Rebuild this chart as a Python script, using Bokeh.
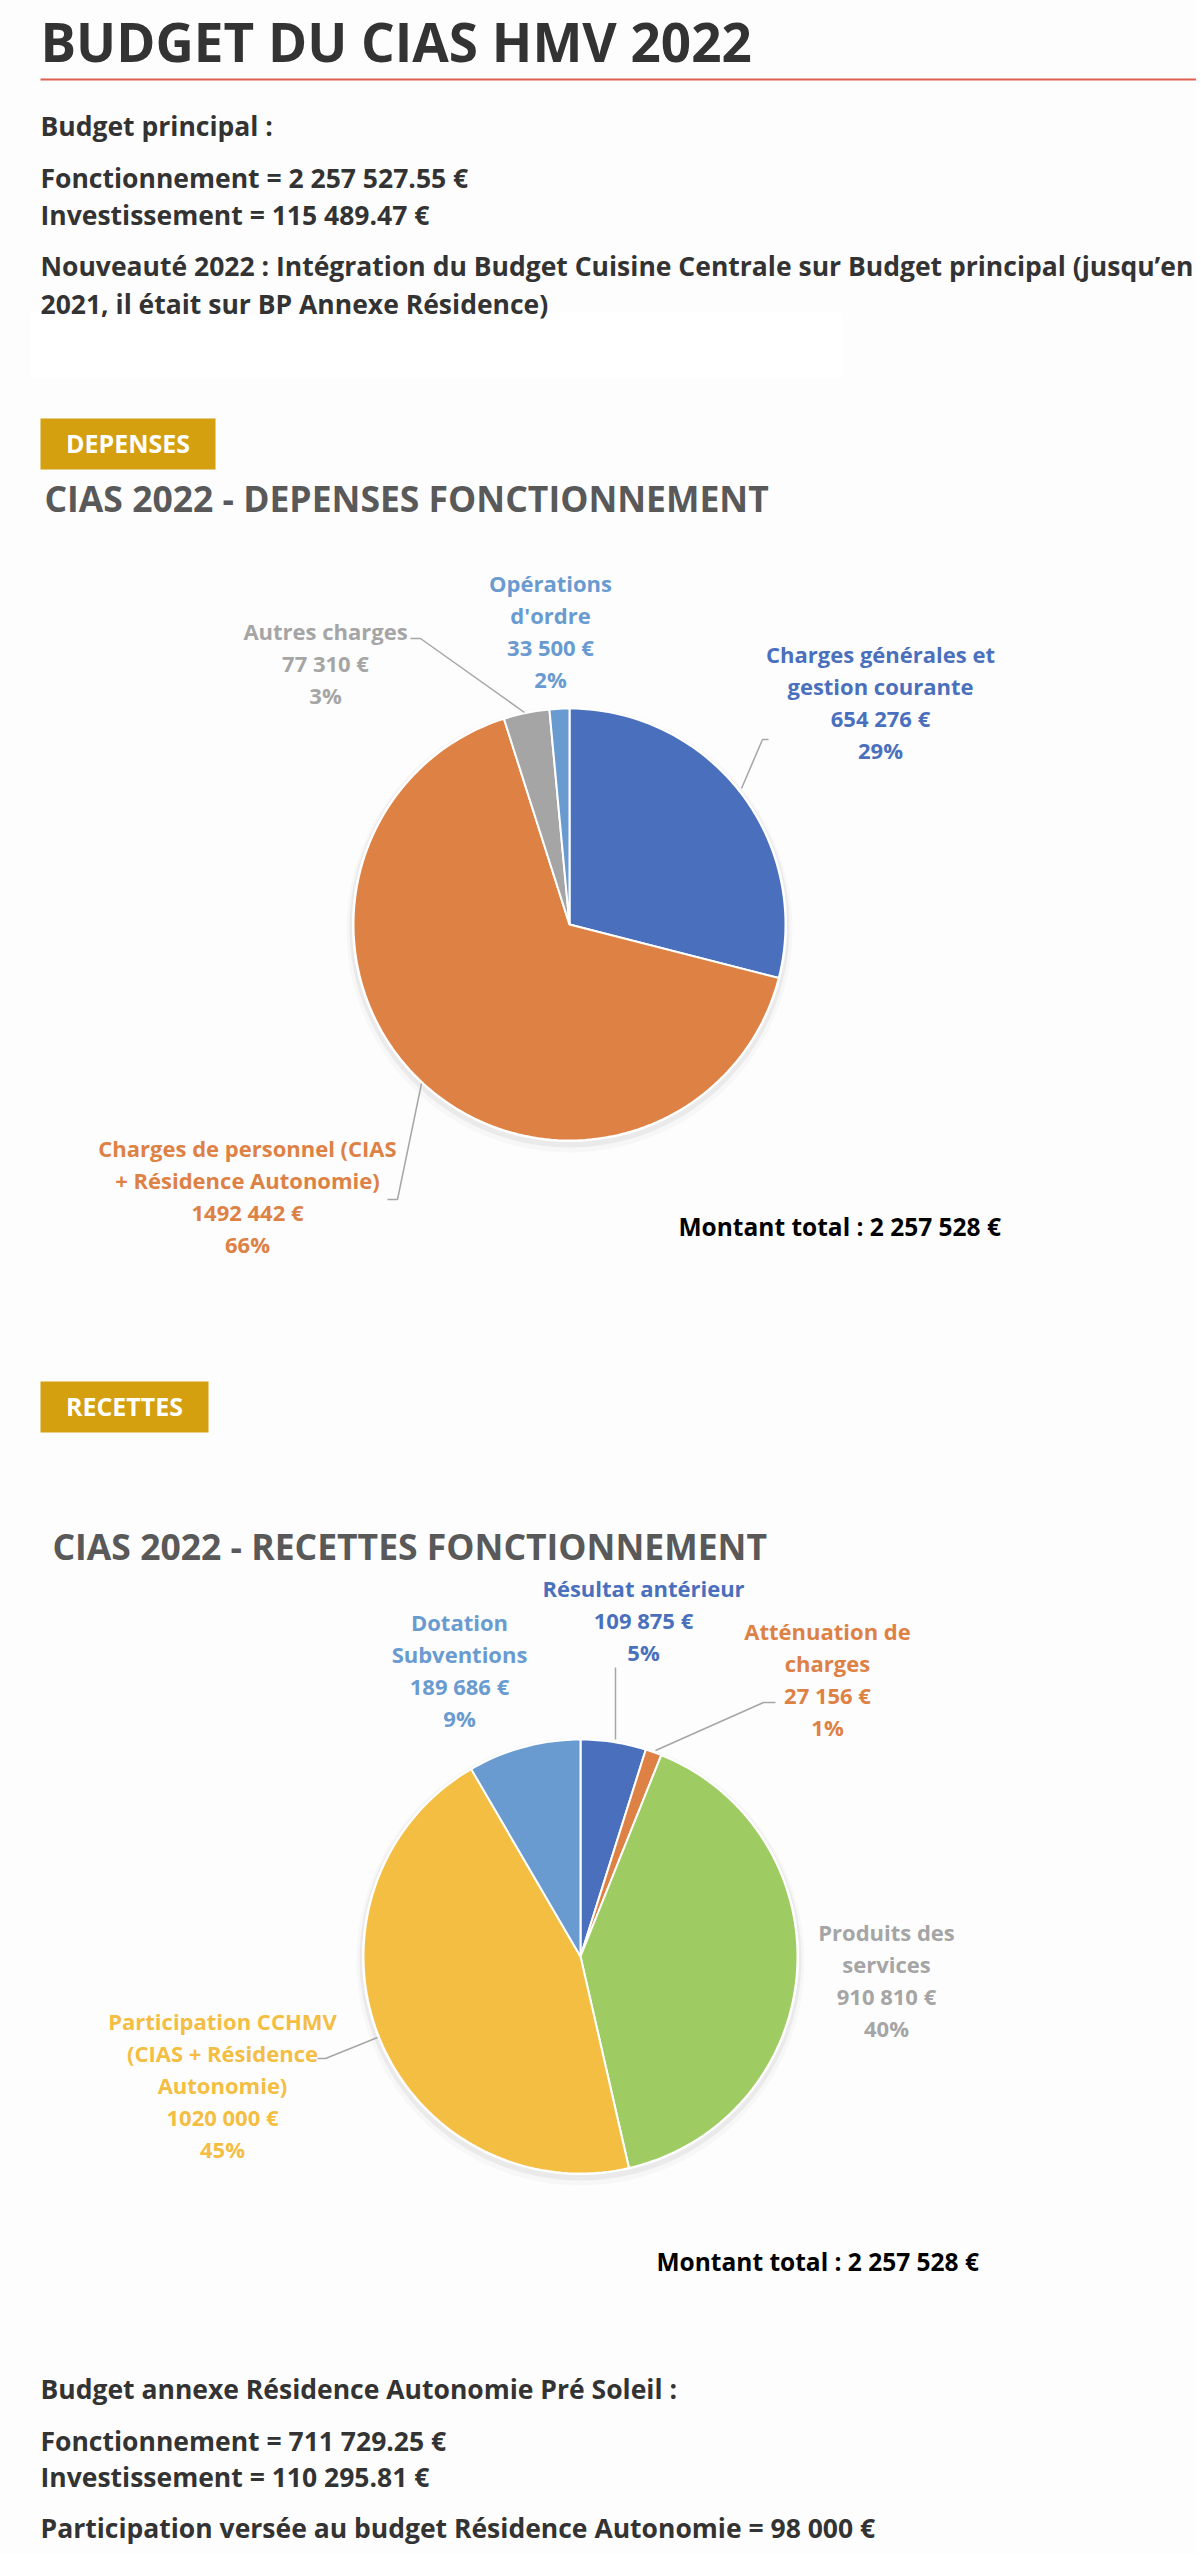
import numpy as np
from bokeh.plotting import figure
from bokeh.models import Range1d
from bokeh.core.properties import value
from bokeh.embed import file_html
from bokeh.resources import INLINE

# ---------------- data ----------------
dep_categories = ["Charges générales et gestion courante",
                  "Charges de personnel (CIAS + Résidence Autonomie)",
                  "Autres charges", "Opérations d'ordre"]
dep_label_names = [["Charges générales et", "gestion courante"],
                   ["Charges de personnel (CIAS", "+ Résidence Autonomie)"],
                   ["Autres charges"],
                   ["Opérations", "d'ordre"]]
dep_values = [654276, 1492442, 77310, 33500]
dep_percent = [29, 66, 3, 2]
dep_colors = ["#4A70BD", "#DE8145", "#A5A5A5", "#6A9BD0"]
dep_label_colors = ["#4A70BD", "#DE8145", "#A5A5A5", "#6A9BD0"]

rec_categories = ["Résultat antérieur", "Atténuation de charges",
                  "Produits des services",
                  "Participation CCHMV (CIAS + Résidence Autonomie)",
                  "Dotation Subventions"]
rec_label_names = [["Résultat antérieur"],
                   ["Atténuation de", "charges"],
                   ["Produits des", "services"],
                   ["Participation CCHMV", "(CIAS + Résidence", "Autonomie)"],
                   ["Dotation", "Subventions"]]
rec_values = [109875, 27156, 910810, 1020000, 189686]
rec_percent = [5, 1, 40, 45, 9]
rec_colors = ["#4A70BD", "#DE8145", "#9FCC62", "#F4BE43", "#6A9BD0"]
rec_label_colors = ["#4A70BD", "#DE8145", "#A5A5A5", "#F4BE43", "#6A9BD0"]

total_label = "Montant total : 2 257 528 €"

intro_lines = ["Budget principal :",
               "Fonctionnement = 2 257 527.55 €",
               "Investissement = 115 489.47 €",
               "Nouveauté 2022 : Intégration du Budget Cuisine Centrale sur Budget principal (jusqu’en",
               "2021, il était sur BP Annexe Résidence)"]
outro_lines = ["Budget annexe Résidence Autonomie Pré Soleil :",
               "Fonctionnement = 711 729.25 €",
               "Investissement = 110 295.81 €",
               "Participation versée au budget Résidence Autonomie = 98 000 €"]

# ---------------- layout ----------------
W, H = 1196, 2554
FONT = value("Open Sans")
p = figure(width=W, height=H, x_range=Range1d(0, W), y_range=Range1d(H, 0),
           output_backend="svg", toolbar_location=None, min_border=0)
p.axis.visible = False
p.grid.visible = False
p.outline_line_color = None
p.background_fill_color = "#FDFDFD"
p.border_fill_color = "#FDFDFD"


def txt(x, y, s, size, color, align="left", style="bold"):
    # y is the wanted baseline; compensate the renderer's baseline offset
    yy = y - (0.4 * size + 1)
    p.text(x=[x], y=[yy], text=[s], text_font=FONT, text_font_style=style,
           text_font_size=f"{size}px", text_color=color, text_align=align,
           text_baseline="alphabetic")


def fmt(v):
    s = str(v)
    return s[:-3] + " " + s[-3:] + " €"


def pie(values, colors, cx, cy, r):
    p.circle(x=[cx], y=[cy + 5], radius=r + 7, fill_color="black", fill_alpha=0.025, line_color=None)
    p.circle(x=[cx], y=[cy + 3], radius=r + 4, fill_color="black", fill_alpha=0.05, line_color=None)
    p.circle(x=[cx], y=[cy], radius=r + 1.5, fill_color="white", line_color=None)
    v = np.asarray(values, dtype=float)
    cum = np.concatenate([[0.0], np.cumsum(v)]) / v.sum() * 2 * np.pi
    xs, ys = [], []
    for a0, a1 in zip(cum[:-1], cum[1:]):
        t = np.linspace(a0, a1, max(3, int(200 * (a1 - a0) / (2 * np.pi)) + 2))
        xs.append(np.concatenate([[cx], cx + r * np.sin(t)]))
        ys.append(np.concatenate([[cy], cy - r * np.cos(t)]))
    p.patches(xs, ys, fill_color=colors, line_color="white", line_width=2)


def labels(names, values, pcts, colors, positions, size=22, step=32):
    for nm, v, pc, c, (x, y) in zip(names, values, pcts, colors, positions):
        lines = nm + [fmt(v), f"{pc}%"]
        for i, ln in enumerate(lines):
            txt(x, y + i * step, ln, size, c, align="center")


def leader(xs, ys):
    p.line(xs, ys, line_color="#A6A6A6", line_width=1.5)


# header
txt(40, 63, "BUDGET DU CIAS HMV 2022", 53, "#333333")
p.line([40, W], [79, 79], line_color="#E0604F", line_width=2)

p.quad(left=[30], right=[842], top=[312], bottom=[378], fill_color="white", line_color=None)

intro_base = [137, 189, 226, 277, 315]
for s, y in zip(intro_lines, intro_base):
    txt(40, y, s, 26.5, "#333333")

# DEPENSES badge
p.quad(left=[40], right=[215], top=[418], bottom=[469], fill_color="#D4A00F", line_color=None)
txt(127.5, 453, "DEPENSES", 25, "white", align="center")
txt(44, 513, "CIAS 2022 - DEPENSES FONCTIONNEMENT", 35.5, "#595959")

pie(dep_values, dep_colors, 569, 924, 216)
leader([768, 762, 741], [739, 739, 788])
leader([410, 420, 524], [638, 638, 712])
leader([387, 397, 421], [1199, 1199, 1083])
labels(dep_label_names, dep_values, dep_percent, dep_label_colors,
       [(880, 663), (247, 1157), (325, 640), (550, 592)])
txt(678, 1237, total_label, 24.5, "black")

# RECETTES badge
p.quad(left=[40], right=[208], top=[1381], bottom=[1432], fill_color="#D4A00F", line_color=None)
txt(124, 1416, "RECETTES", 25, "white", align="center")
txt(52, 1561, "CIAS 2022 - RECETTES FONCTIONNEMENT", 35.5, "#595959")

pie(rec_values, rec_colors, 580, 1956, 217)
leader([615, 615], [1667, 1739])
leader([775, 763, 655], [1702, 1702, 1750])
leader([317, 325, 377], [2058, 2058, 2037])
labels(rec_label_names, rec_values, rec_percent, rec_label_colors,
       [(643, 1597), (827, 1640), (886, 1941), (222, 2030), (459, 1631)])
txt(656, 2272, total_label, 24.5, "black")

outro_base = [2400, 2452, 2488, 2539]
for s, y in zip(outro_lines, outro_base):
    txt(40, y, s, 26.5, "#333333")

open("out.html", "w").write(file_html(p, INLINE))
